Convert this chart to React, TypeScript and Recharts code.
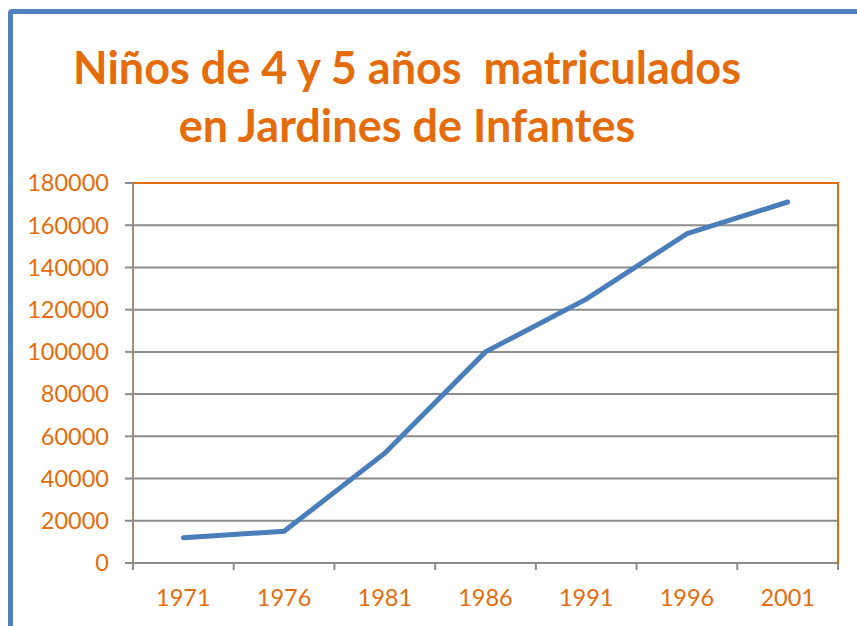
import { LineChart, Line, XAxis, YAxis, CartesianGrid } from 'recharts'

const years = ['1971', '1976', '1981', '1986', '1991', '1996', '2001']
const enrolled = [12000, 15000, 52000, 100000, 125000, 156000, 171000]
const yTicks = [0, 20000, 40000, 60000, 80000, 100000, 120000, 140000, 160000, 180000]

const ORANGE = '#E46C0A'
const GRID = '#8C8C8C'
const FONT = 'Lato, "Open Sans", sans-serif'

const data = years.map((year, i) => ({ year, value: enrolled[i] }))

function XTick(props: any) {
  const { x, y, payload, width, visibleTicksCount } = props
  const band = width / (visibleTicksCount || years.length)
  return (
    <g>
      <line x1={x - band / 2} x2={x - band / 2} y1={y} y2={y + 7} stroke={GRID} strokeWidth={2} />
      {payload.index === years.length - 1 && (
        <line x1={x + band / 2} x2={x + band / 2} y1={y} y2={y + 7} stroke={GRID} strokeWidth={2} />
      )}
      <text x={x} y={y + 43} textAnchor="middle" fill={ORANGE} fontSize={23.5} fontFamily={FONT}>
        {payload.value}
      </text>
    </g>
  )
}

export default function App() {
  return (
    <div style={{ position: 'absolute', left: 0, top: 0, width: 857, height: 626, overflow: 'hidden', background: '#fff' }}>
      <div
        style={{
          position: 'absolute',
          left: 8,
          top: 9,
          width: 900,
          height: 700,
          border: '5px solid #4F81BD',
          borderRadius: 4,
        }}
      />
      <div
        style={{
          position: 'absolute',
          left: 0,
          width: 814,
          top: 38,
          textAlign: 'center',
          color: ORANGE,
          fontFamily: FONT,
          fontWeight: 700,
          fontSize: 45,
          lineHeight: '58px',
          whiteSpace: 'pre',
        }}
      >
        {'Niños de 4 y 5 años  matriculados\nen Jardines de Infantes'}
      </div>
      <div style={{ position: 'absolute', left: 0, top: 0 }}>
        <LineChart width={857} height={626} data={data} margin={{ top: 183, right: 19, left: 0, bottom: 0 }}>
          <CartesianGrid vertical={false} stroke={GRID} strokeWidth={2} />
          <XAxis
            dataKey="year"
            scale="band"
            height={63}
            axisLine={{ stroke: GRID, strokeWidth: 2 }}
            tickLine={false}
            tickSize={0}
            tickMargin={0}
            interval={0}
            tick={<XTick />}
          />
          <YAxis
            width={133}
            domain={[0, 180000]}
            ticks={yTicks}
            interval={0}
            axisLine={{ stroke: '#A98A72', strokeWidth: 2 }}
            tickLine={{ stroke: GRID, strokeWidth: 2 }}
            tickSize={8}
            tickMargin={16}
            tick={{ fill: ORANGE, fontSize: 23.5, fontFamily: FONT }}
          />
          <Line
            type="linear"
            dataKey="value"
            stroke="#4A7EBB"
            strokeWidth={5}
            strokeLinecap="round"
            dot={false}
            isAnimationActive={false}
          />
        </LineChart>
      </div>
      {/* orange plot-area border, top and right */}
      <div style={{ position: 'absolute', left: 133, top: 182, width: 705, height: 2, background: ORANGE }} />
      <div style={{ position: 'absolute', left: 837, top: 182, width: 2, height: 382, background: ORANGE }} />
    </div>
  )
}
